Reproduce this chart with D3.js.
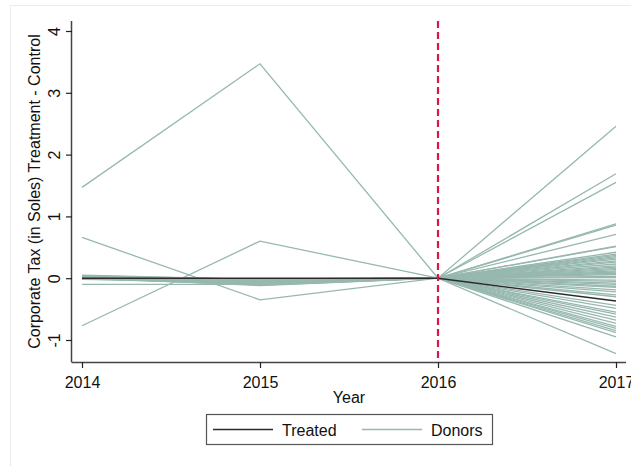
<!DOCTYPE html>
<html>
<head>
<meta charset="utf-8">
<script src="https://cdn.jsdelivr.net/npm/d3@7"></script>
<style>
  html, body { margin: 0; padding: 0; background: #fff; }
  svg { display: block; font-family: "Liberation Sans", Arial, sans-serif; }
</style>
</head>
<body>
<svg id="chart" width="631" height="466"></svg>
<script>
// Years on the horizontal axis
const years = [2014, 2015, 2016, 2017];
const yTicks = [-1, 0, 1, 2, 3, 4];
const treatmentYear = 2016;

// Treated unit: gap relative to synthetic control, by year
const treated = [0.00, 0.00, 0.00, -0.37];

// Donor units (placebos), one entry per donor, by year
const donor2014 = [1.47, 0.66, -0.77, -0.10, 0.05, 0.04, 0.03, 0.02, 0.01, 0.00,
  -0.01, 0.03, 0.02, 0.01, 0.04, 0.00, 0.02, -0.01, 0.03, 0.01,
  0.00, 0.02, 0.04, 0.01, -0.02, 0.00, 0.02, 0.03, 0.01, 0.00,
  -0.01, 0.02, 0.01, 0.03, 0.00, 0.02, 0.01, -0.01, 0.02, 0.00,
  0.03, 0.01, 0.02, 0.00, -0.01, 0.02, 0.01, 0.03, 0.00, 0.02];
const donor2015 = [3.47, -0.35, 0.60, -0.10, -0.02, -0.05, -0.08, -0.03, -0.06, -0.01,
  -0.10, -0.04, -0.07, -0.12, -0.02, -0.05, -0.09, -0.03, -0.06, -0.01,
  -0.08, -0.04, -0.11, -0.02, -0.07, -0.05, -0.03, -0.09, -0.04, -0.06,
  -0.02, -0.08, -0.05, -0.03, -0.07, -0.10, -0.04, -0.06, -0.02, -0.08,
  -0.05, -0.03, -0.09, -0.06, -0.04, -0.07, -0.05, -0.02, -0.11, -0.06];
const donor2016 = [0, 0, 0, 0, 0, 0, 0, 0, 0, 0,
  0, 0, 0, 0, 0, 0, 0, 0, 0, 0,
  0, 0, 0, 0, 0, 0, 0, 0, 0, 0,
  0, 0, 0, 0, 0, 0, 0, 0, 0, 0,
  0, 0, 0, 0, 0, 0, 0, 0, 0, 0];
const donor2017 = [0.35, -0.55, 0.18, -0.13, 2.46, 1.69, 1.55, 0.88, 0.86, 0.71,
  0.52, 0.51, 0.42, 0.39, 0.37, 0.33, 0.31, 0.28, 0.26, 0.23,
  0.20, 0.16, 0.14, 0.12, 0.10, 0.08, 0.06, 0.03, 0.01, -0.03,
  -0.05, -0.08, -0.10, -0.15, -0.19, -0.22, -0.27, -0.30, -0.44, -0.49,
  -0.58, -0.63, -0.68, -0.73, -0.78, -0.81, -0.85, -0.88, -0.95, -1.22];

const legendLabels = ["Treated", "Donors"];
const donorColor = "#97b8af";
const treatedColor = "#2b2b2b";
const lineColor = "#d8174a";

const svg = d3.select("#chart");

// graph region outline
svg.append("rect")
  .attr("x", 10.5).attr("y", 5.5)
  .attr("width", 640).attr("height", 470)
  .attr("fill", "none").attr("stroke", "#e6ecef");

const x = d3.scaleLinear().domain([2014, 2017]).range([82, 616]);
const y = d3.scaleLinear().domain([-1, 4]).range([340, 31]);

const plotLeft = 72, plotRight = 626, plotTop = y(4.16), plotBottom = 362;

// plain hyphen for negative tick values
const fmt = d => String(d);

// axes
const yAxis = d3.axisLeft(y).tickValues(yTicks).tickSize(6).tickFormat(fmt);
const gy = svg.append("g").attr("transform", `translate(${plotLeft},0)`).call(yAxis);
gy.select(".domain").attr("d", `M-0.5,${plotTop}V${plotBottom}`);

const xAxis = d3.axisBottom(x).tickValues(years).tickSize(6).tickFormat(fmt);
const gx = svg.append("g").attr("transform", `translate(0,${plotBottom})`).call(xAxis);
gx.select(".domain").attr("d", `M${plotLeft - 0.5},0.5H${plotRight}`);
gx.selectAll(".tick text").attr("y", 0).attr("dy", 26);

[gx, gy].forEach(g => {
  g.selectAll(".domain").attr("stroke", "#444").attr("stroke-width", 1.5);
  g.selectAll(".tick line").attr("stroke", "#222").attr("stroke-width", 1.2);
  g.selectAll(".tick text")
    .attr("fill", "#111")
    .style("font-size", "16px")
    .style("font-family", "'Liberation Sans', Arial, sans-serif");
});

// y tick labels sit rotated beside the axis
gy.selectAll(".tick text")
  .attr("x", 0).attr("y", 0).attr("dy", 0)
  .attr("text-anchor", "middle")
  .attr("transform", `translate(-12,0) rotate(-90)`);

// axis titles
svg.append("text")
  .attr("transform", `translate(40,${(plotTop + plotBottom) / 2}) rotate(-90)`)
  .attr("text-anchor", "middle")
  .style("font-size", "16px").attr("fill", "#111")
  .text("Corporate Tax (in Soles) Treatment - Control");

svg.append("text")
  .attr("x", (x(2014) + x(2017)) / 2).attr("y", 403)
  .attr("text-anchor", "middle")
  .style("font-size", "16px").attr("fill", "#111")
  .text("Year");

// lines
const line = d3.line().x(d => x(d[0])).y(d => y(d[1]));
const donors = donor2014.map((v, i) => [donor2014[i], donor2015[i], donor2016[i], donor2017[i]]);

svg.append("g").selectAll("path")
  .data(donors)
  .join("path")
  .attr("d", d => line(d.map((v, j) => [years[j], v])))
  .attr("fill", "none")
  .attr("stroke", donorColor)
  .attr("stroke-width", 1.3);

svg.append("path")
  .attr("d", line(treated.map((v, j) => [years[j], v])))
  .attr("fill", "none")
  .attr("stroke", treatedColor)
  .attr("stroke-width", 1.5);

// treatment year marker
svg.append("line")
  .attr("x1", x(treatmentYear)).attr("x2", x(treatmentYear))
  .attr("y1", plotTop).attr("y2", plotBottom)
  .attr("stroke", lineColor)
  .attr("stroke-width", 2.2)
  .attr("stroke-dasharray", "7,4");

// legend
const lg = svg.append("g");
lg.append("rect")
  .attr("x", 206.5).attr("y", 414.5)
  .attr("width", 286).attr("height", 30)
  .attr("fill", "#fff").attr("stroke", "#555").attr("stroke-width", 1.2);
const legendItems = [
  { label: legendLabels[0], color: treatedColor, x0: 213, x1: 273, tx: 282 },
  { label: legendLabels[1], color: donorColor, x0: 362, x1: 422, tx: 431 }
];
legendItems.forEach(it => {
  lg.append("line")
    .attr("x1", it.x0).attr("x2", it.x1)
    .attr("y1", 429.5).attr("y2", 429.5)
    .attr("stroke", it.color).attr("stroke-width", 1.5);
  lg.append("text")
    .attr("x", it.tx).attr("y", 436)
    .style("font-size", "16px").attr("fill", "#111")
    .text(it.label);
});
</script>
</body>
</html>
